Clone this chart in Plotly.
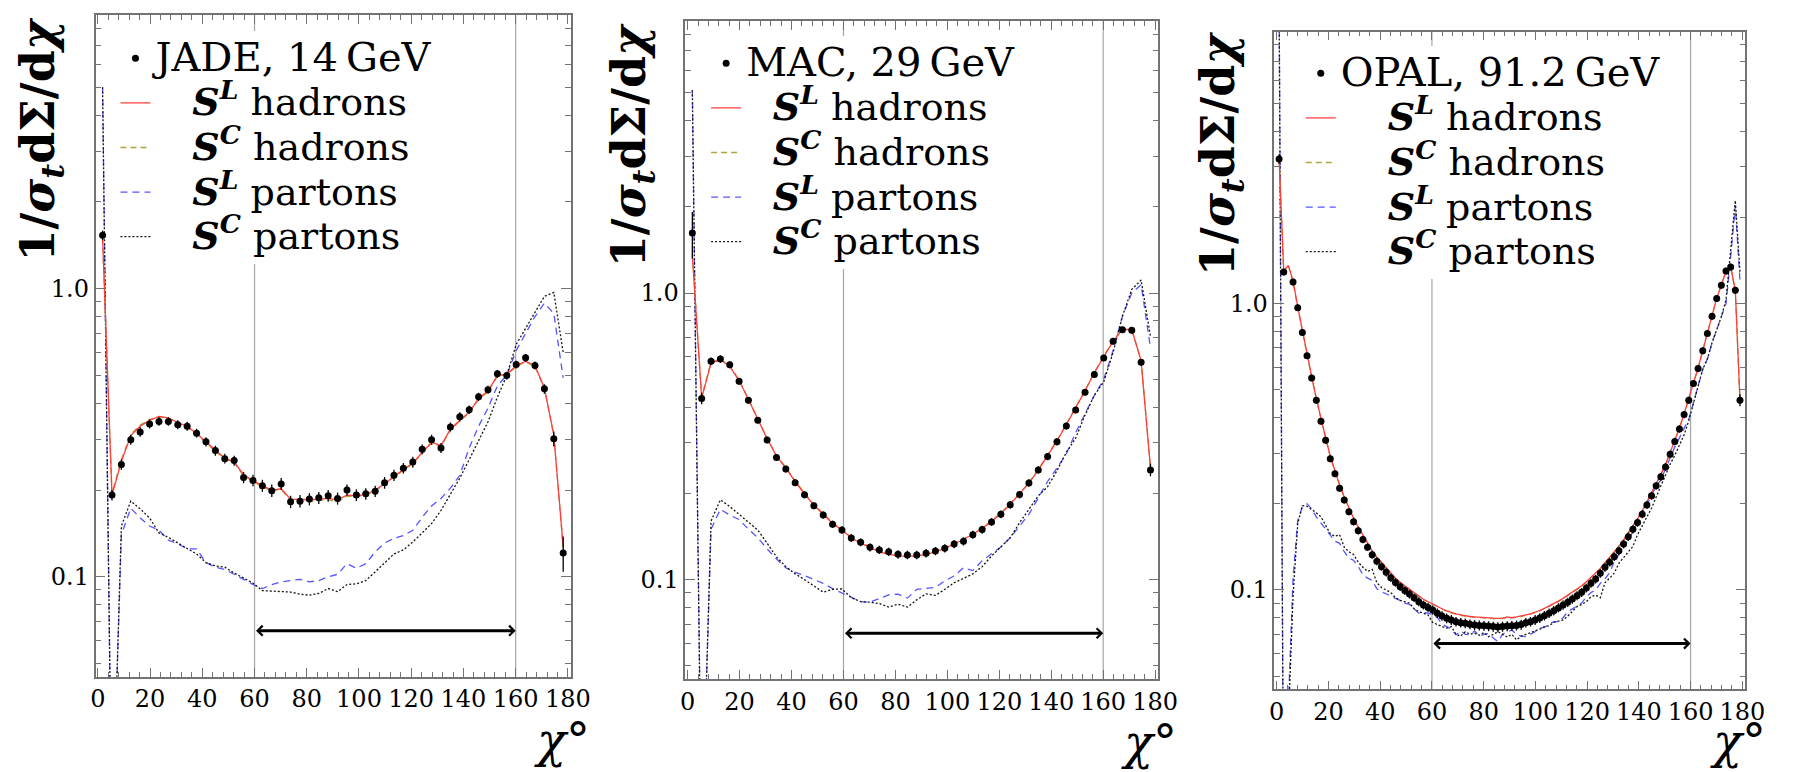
import math
import plotly.graph_objects as go

# ---------------- data ----------------
CHI_36 = [1.8, 5.4, 9.0, 12.6, 16.2, 19.8, 23.4, 27.0, 30.6, 34.2,
          37.8, 41.4, 45.0, 48.6, 52.2, 55.8, 59.4, 63.0, 66.6, 70.2,
          73.8, 77.4, 81.0, 84.6, 88.2, 91.8, 95.4, 99.0, 102.6, 106.2,
          109.8, 113.4, 117.0, 120.6, 124.2, 127.8, 131.4, 135.0, 138.6, 142.2,
          145.8, 149.4, 153.0, 156.6, 160.2, 163.8, 167.4, 171.0, 174.6, 178.2]

CHI_18 = [0.9, 2.7, 4.5, 6.3, 8.1, 9.9, 11.7, 13.5, 15.3, 17.1,
          18.9, 20.7, 22.5, 24.3, 26.1, 27.9, 29.7, 31.5, 33.3, 35.1,
          36.9, 38.7, 40.5, 42.3, 44.1, 45.9, 47.7, 49.5, 51.3, 53.1,
          54.9, 56.7, 58.5, 60.3, 62.1, 63.9, 65.7, 67.5, 69.3, 71.1,
          72.9, 74.7, 76.5, 78.3, 80.1, 81.9, 83.7, 85.5, 87.3, 89.1,
          90.9, 92.7, 94.5, 96.3, 98.1, 99.9, 101.7, 103.5, 105.3, 107.1,
          108.9, 110.7, 112.5, 114.3, 116.1, 117.9, 119.7, 121.5, 123.3, 125.1,
          126.9, 128.7, 130.5, 132.3, 134.1, 135.9, 137.7, 139.5, 141.3, 143.1,
          144.9, 146.7, 148.5, 150.3, 152.1, 153.9, 155.7, 157.5, 159.3, 161.1,
          162.9, 164.7, 166.5, 168.3, 170.1, 171.9, 173.7, 175.5, 177.3, 179.1]

# JADE, 14 GeV
JADE_DATA = [1.53, 0.192, 0.245, 0.299, 0.318, 0.339, 0.346, 0.346, 0.337, 0.333,
             0.315, 0.294, 0.274, 0.257, 0.253, 0.221, 0.216, 0.207, 0.199, 0.210,
             0.182, 0.183, 0.186, 0.188, 0.191, 0.187, 0.200, 0.192, 0.194, 0.198,
             0.212, 0.225, 0.238, 0.250, 0.277, 0.299, 0.280, 0.331, 0.359, 0.380,
             0.421, 0.446, 0.506, 0.499, 0.545, 0.575, 0.541, 0.449, 0.301, 0.121]
JADE_ERR = [0.06, 0.008, 0.010, 0.012, 0.012, 0.012, 0.012, 0.012, 0.012, 0.012,
            0.011, 0.011, 0.011, 0.010, 0.010, 0.010, 0.010, 0.010, 0.010, 0.010,
            0.009, 0.009, 0.009, 0.009, 0.009, 0.009, 0.009, 0.009, 0.009, 0.009,
            0.010, 0.010, 0.010, 0.011, 0.011, 0.012, 0.011, 0.012, 0.013, 0.013,
            0.014, 0.014, 0.016, 0.016, 0.017, 0.018, 0.017, 0.017, 0.018, 0.017]
JADE_SL_HAD = [1.50, 0.192, 0.251, 0.309, 0.333, 0.349, 0.360, 0.356, 0.343, 0.333,
               0.314, 0.294, 0.274, 0.258, 0.250, 0.226, 0.216, 0.207, 0.200, 0.202,
               0.186, 0.185, 0.185, 0.186, 0.187, 0.185, 0.192, 0.191, 0.193, 0.200,
               0.210, 0.223, 0.235, 0.248, 0.270, 0.293, 0.285, 0.325, 0.349, 0.372,
               0.416, 0.441, 0.500, 0.505, 0.540, 0.560, 0.540, 0.452, 0.311, 0.127]
JADE_SC_HAD = [1.50, 0.195, 0.255, 0.312, 0.336, 0.352, 0.358, 0.355, 0.341, 0.331,
               0.312, 0.292, 0.272, 0.257, 0.249, 0.224, 0.214, 0.205, 0.199, 0.201,
               0.184, 0.183, 0.182, 0.184, 0.185, 0.182, 0.190, 0.190, 0.192, 0.199,
               0.209, 0.222, 0.234, 0.247, 0.268, 0.291, 0.283, 0.323, 0.347, 0.370,
               0.413, 0.438, 0.497, 0.502, 0.537, 0.556, 0.536, 0.450, 0.309, 0.126]
JADE_SL_PAR = [5.0, 0.012, 0.140, 0.173, 0.160, 0.150, 0.145, 0.134, 0.130, 0.125,
               0.125, 0.112, 0.108, 0.106, 0.102, 0.098, 0.094, 0.091, 0.094, 0.096,
               0.097, 0.098, 0.096, 0.097, 0.100, 0.102, 0.111, 0.107, 0.111, 0.122,
               0.131, 0.136, 0.139, 0.145, 0.161, 0.176, 0.187, 0.203, 0.225, 0.280,
               0.333, 0.385, 0.460, 0.500, 0.610, 0.700, 0.800, 0.890, 0.820, 0.490]
JADE_SC_PAR = [5.0, 0.012, 0.150, 0.183, 0.172, 0.160, 0.142, 0.137, 0.131, 0.125,
               0.120, 0.112, 0.109, 0.108, 0.103, 0.099, 0.095, 0.0895, 0.0893, 0.0890,
               0.0885, 0.0870, 0.0863, 0.0875, 0.0910, 0.0888, 0.0940, 0.0945, 0.0970, 0.104,
               0.112, 0.120, 0.124, 0.132, 0.142, 0.153, 0.170, 0.193, 0.220, 0.255,
               0.295, 0.345, 0.420, 0.500, 0.640, 0.725, 0.830, 0.940, 0.970, 0.600]

# MAC, 29 GeV
MAC_DATA = [1.62, 0.429, 0.578, 0.589, 0.562, 0.492, 0.423, 0.360, 0.307, 0.267,
            0.243, 0.218, 0.1976, 0.181, 0.168, 0.156, 0.149, 0.1397, 0.135, 0.1296,
            0.127, 0.125, 0.1225, 0.122, 0.122, 0.1237, 0.1258, 0.1286, 0.1332, 0.136,
            0.1435, 0.1495, 0.159, 0.169, 0.1825, 0.198, 0.2175, 0.2415, 0.2687, 0.3025,
            0.3435, 0.391, 0.451, 0.520, 0.594, 0.679, 0.745, 0.742, 0.574, 0.2415]
MAC_ERR = [0.30, 0.020, 0.018, 0.018, 0.016, 0.013, 0.011, 0.009, 0.008, 0.007,
           0.0065, 0.006, 0.0055, 0.005, 0.0048, 0.0045, 0.0044, 0.0043, 0.0042, 0.0042,
           0.0042, 0.0042, 0.0042, 0.0042, 0.0042, 0.0042, 0.0042, 0.0043, 0.0044, 0.0045,
           0.0047, 0.0048, 0.005, 0.0053, 0.0056, 0.006, 0.0065, 0.007, 0.0077, 0.0085,
           0.0095, 0.0105, 0.012, 0.0135, 0.015, 0.017, 0.018, 0.018, 0.015, 0.012]
MAC_SL_HAD = [1.35, 0.430, 0.570, 0.585, 0.555, 0.495, 0.425, 0.362, 0.310, 0.270,
              0.245, 0.220, 0.199, 0.182, 0.169, 0.157, 0.149, 0.140, 0.134, 0.129,
              0.125, 0.1225, 0.1210, 0.1205, 0.1210, 0.1225, 0.1250, 0.1285, 0.1330, 0.1380,
              0.1440, 0.1510, 0.1595, 0.1700, 0.1830, 0.1985, 0.2170, 0.2410, 0.2700, 0.3050,
              0.3470, 0.3960, 0.4560, 0.5270, 0.6000, 0.6800, 0.7450, 0.7450, 0.5800, 0.2450]
MAC_SC_HAD = [1.38, 0.435, 0.575, 0.588, 0.557, 0.497, 0.427, 0.364, 0.311, 0.271,
              0.246, 0.221, 0.200, 0.183, 0.170, 0.158, 0.150, 0.141, 0.135, 0.130,
              0.126, 0.1235, 0.1220, 0.1215, 0.1218, 0.1232, 0.1258, 0.1292, 0.1338, 0.1386,
              0.1448, 0.1518, 0.1605, 0.1710, 0.1840, 0.1995, 0.2180, 0.2425, 0.2715, 0.3065,
              0.3490, 0.3980, 0.4580, 0.5290, 0.6020, 0.6830, 0.7480, 0.7470, 0.5820, 0.2470]
MAC_SL_PAR = [5.1, 0.012, 0.150, 0.176, 0.168, 0.162, 0.150, 0.140, 0.128, 0.118,
              0.110, 0.106, 0.1033, 0.100, 0.097, 0.093, 0.090, 0.087, 0.0838, 0.0834,
              0.0860, 0.0885, 0.0890, 0.0862, 0.0925, 0.0932, 0.0940, 0.0990, 0.1030, 0.1100,
              0.1075, 0.1165, 0.1230, 0.1300, 0.1400, 0.1540, 0.1690, 0.1930, 0.2200, 0.2450,
              0.2750, 0.3260, 0.3800, 0.4400, 0.5000, 0.6300, 0.8300, 1.0000, 1.0700, 0.6440]
MAC_SC_PAR = [5.1, 0.012, 0.160, 0.190, 0.180, 0.169, 0.158, 0.149, 0.134, 0.120,
              0.111, 0.1047, 0.100, 0.095, 0.0904, 0.0925, 0.0928, 0.0865, 0.0838, 0.0834,
              0.0825, 0.0802, 0.0821, 0.0802, 0.0850, 0.0892, 0.0881, 0.0925, 0.0975, 0.101,
              0.1047, 0.111, 0.121, 0.130, 0.140, 0.158, 0.176, 0.196, 0.211, 0.240,
              0.278, 0.312, 0.375, 0.440, 0.490, 0.620, 0.830, 1.030, 1.110, 0.706]

# OPAL, 91.2 GeV
OPAL_DATA = [3.2, 1.289, None, 1.189, 0.968, 0.792, 0.657, 0.550, 0.460, 0.388,
             0.333, 0.287, 0.2545, 0.2264, 0.206, 0.1876, 0.173, 0.161, 0.150, 0.141,
             0.1328, 0.126, 0.1206, 0.1153, 0.1104, 0.1063, 0.1027, 0.0995, 0.0968, 0.094,
             0.091, 0.0886, 0.0868, 0.0851, 0.083, 0.0812, 0.0797, 0.0786, 0.0775, 0.0769,
             0.0765, 0.0759, 0.0755, 0.0752, 0.0750, 0.0748, 0.0745, 0.0742, 0.0745, 0.0748,
             0.0750, 0.0752, 0.0757, 0.0769, 0.0775, 0.0786, 0.0798, 0.0813, 0.083, 0.0847,
             0.0866, 0.0886, 0.0906, 0.0930, 0.0955, 0.0981, 0.1016, 0.1055, 0.1092, 0.1143,
             0.120, 0.125, 0.1307, 0.137, 0.1447, 0.1535, 0.163, 0.172, 0.184, 0.198,
             0.2134, 0.231, 0.2485, 0.269, 0.298, 0.330, 0.365, 0.410, 0.460, 0.526,
             0.593, 0.684, 0.786, 0.903, 1.041, 1.158, 1.299, 1.342, 1.113, 0.460]
OPAL_ERR = [0.12, 0.035, 0.0, 0.032, 0.026, 0.021, 0.017, 0.014, 0.012, 0.010,
            0.0088, 0.0077, 0.0069, 0.0062, 0.0057, 0.0053, 0.0050, 0.0047, 0.0045, 0.0043,
            0.0042, 0.0040, 0.0039, 0.0038, 0.0037, 0.0036, 0.0035, 0.0034, 0.0034, 0.0033,
            0.0033, 0.0032, 0.0032, 0.0032, 0.0031, 0.0031, 0.0031, 0.0031, 0.0030, 0.0030,
            0.0030, 0.0030, 0.0030, 0.0030, 0.0030, 0.0030, 0.0030, 0.0030, 0.0030, 0.0030,
            0.0030, 0.0030, 0.0030, 0.0030, 0.0030, 0.0031, 0.0031, 0.0031, 0.0032, 0.0032,
            0.0032, 0.0033, 0.0033, 0.0034, 0.0034, 0.0035, 0.0036, 0.0037, 0.0038, 0.0039,
            0.0041, 0.0042, 0.0044, 0.0046, 0.0048, 0.0051, 0.0054, 0.0057, 0.0060, 0.0064,
            0.0068, 0.0073, 0.0078, 0.0084, 0.0092, 0.010, 0.011, 0.012, 0.013, 0.015,
            0.017, 0.019, 0.022, 0.025, 0.028, 0.031, 0.035, 0.036, 0.032, 0.022]
OPAL_SL_HAD = [3.2, 1.30, 1.36, 1.20, 0.975, 0.80, 0.665, 0.556, 0.466, 0.395,
               0.340, 0.293, 0.260, 0.232, 0.211, 0.193, 0.178, 0.166, 0.155, 0.146,
               0.137, 0.130, 0.125, 0.1195, 0.1145, 0.110, 0.1065, 0.1035, 0.1005, 0.098,
               0.0952, 0.0928, 0.0910, 0.0895, 0.0877, 0.0860, 0.0845, 0.0834, 0.0825, 0.0818,
               0.0812, 0.0808, 0.0805, 0.0802, 0.0800, 0.0798, 0.0797, 0.0796, 0.0797, 0.0805,
               0.0800, 0.0805, 0.0810, 0.0818, 0.0826, 0.0836, 0.0848, 0.0862, 0.0878, 0.0895,
               0.0914, 0.0935, 0.0958, 0.0982, 0.1008, 0.1035, 0.1068, 0.1105, 0.1145, 0.1190,
               0.1245, 0.1300, 0.1360, 0.1420, 0.1495, 0.1580, 0.1675, 0.1770, 0.1890, 0.2030,
               0.2180, 0.2350, 0.2530, 0.2740, 0.3020, 0.3330, 0.3680, 0.4120, 0.4620, 0.5280,
               0.5950, 0.6870, 0.7900, 0.9060, 1.0450, 1.1600, 1.3000, 1.3450, 1.1100, 0.4600]
OPAL_SC_HAD = [3.2, 1.29, 1.35, 1.19, 0.97, 0.795, 0.662, 0.554, 0.464, 0.394,
               0.339, 0.292, 0.259, 0.232, 0.211, 0.193, 0.178, 0.166, 0.155, 0.1455,
               0.1368, 0.1298, 0.1245, 0.1192, 0.1142, 0.1098, 0.1063, 0.1032, 0.1003, 0.0978,
               0.0950, 0.0926, 0.0908, 0.0892, 0.0874, 0.0858, 0.0843, 0.0831, 0.0822, 0.0815,
               0.0809, 0.0805, 0.0802, 0.0799, 0.0797, 0.0795, 0.0794, 0.0793, 0.0795, 0.0800,
               0.0798, 0.0802, 0.0807, 0.0815, 0.0823, 0.0833, 0.0845, 0.0859, 0.0875, 0.0892,
               0.0911, 0.0932, 0.0955, 0.0979, 0.1005, 0.1032, 0.1065, 0.1102, 0.1142, 0.1187,
               0.1241, 0.1296, 0.1356, 0.1416, 0.1491, 0.1576, 0.1671, 0.1766, 0.1886, 0.2026,
               0.2176, 0.2346, 0.2526, 0.2736, 0.3016, 0.3326, 0.3676, 0.4116, 0.4616, 0.5276,
               0.5946, 0.6866, 0.7896, 0.9056, 1.0440, 1.1590, 1.2990, 1.3440, 1.1090, 0.4580]
OPAL_SL_PAR = [12.0, 0.012, 0.040, 0.110, 0.175, 0.195, 0.200, 0.192, 0.180, 0.171,
               0.163, 0.155, 0.148, 0.1455, 0.136, 0.129, 0.127, 0.121, 0.113, 0.110,
               0.108, 0.101, 0.0986, 0.0970, 0.0950, 0.0935, 0.0920, 0.0900, 0.0890, 0.0860,
               0.0830, 0.0835, 0.0830, 0.0820, 0.0800, 0.0760, 0.0746, 0.0730, 0.0697, 0.0720,
               0.0700, 0.0697, 0.0720, 0.0690, 0.0700, 0.0705, 0.0680, 0.0660, 0.0700, 0.0712,
               0.0725, 0.0700, 0.0690, 0.0687, 0.0700, 0.0715, 0.0736, 0.0740, 0.0760, 0.0775,
               0.0775, 0.0800, 0.0840, 0.0860, 0.0880, 0.0900, 0.0947, 0.0980, 0.1000, 0.1055,
               0.1090, 0.1150, 0.1255, 0.1330, 0.1420, 0.1490, 0.1600, 0.1720, 0.1850, 0.2000,
               0.2150, 0.2300, 0.2420, 0.2650, 0.2900, 0.3160, 0.3400, 0.3650, 0.3950, 0.4500,
               0.5200, 0.5900, 0.6400, 0.7300, 0.8100, 0.9000, 1.0000, 1.4500, 2.2000, 1.2000]
OPAL_SC_PAR = [12.0, 0.012, 0.035, 0.095, 0.170, 0.197, 0.196, 0.191, 0.186, 0.180,
               0.168, 0.157, 0.154, 0.156, 0.141, 0.136, 0.133, 0.125, 0.120, 0.116,
               0.118, 0.106, 0.102, 0.100, 0.098, 0.094, 0.092, 0.091, 0.090, 0.086,
               0.084, 0.083, 0.0818, 0.0770, 0.0755, 0.0745, 0.0736, 0.0745, 0.0700, 0.0690,
               0.0715, 0.0700, 0.0707, 0.0695, 0.0710, 0.0687, 0.0700, 0.0715, 0.0700, 0.0685,
               0.0700, 0.0670, 0.0690, 0.0700, 0.0707, 0.0720, 0.0730, 0.0745, 0.0750, 0.0770,
               0.0780, 0.0786, 0.0810, 0.0840, 0.0875, 0.0890, 0.0910, 0.0947, 0.0960, 0.0940,
               0.1060, 0.1100, 0.1145, 0.1240, 0.1300, 0.1350, 0.1420, 0.1560, 0.1680, 0.1800,
               0.1930, 0.2110, 0.2300, 0.2500, 0.2750, 0.2950, 0.3200, 0.3480, 0.3900, 0.4500,
               0.5200, 0.5900, 0.6400, 0.7300, 0.8100, 0.9000, 1.0300, 1.5000, 2.2900, 1.2900]

EXPERIMENTS = ["JADE, 14\u2009GeV", "MAC, 29\u2009GeV", "OPAL, 91.2\u2009GeV"]
X_TICKS = [0, 20, 40, 60, 80, 100, 120, 140, 160, 180]
Y_TICKS = [0.1, 1.0]
Y_TICKTEXT = ["0.1", "1.0"]
Y_MINOR = [0.05, 0.06, 0.07, 0.08, 0.09, 0.2, 0.3, 0.4, 0.5, 0.6, 0.7, 0.8, 0.9,
           2, 3, 4, 5, 6, 7, 8]
X_RANGE = [-0.9, 181.2]
Y_RANGE = [0.045, 8.9]
FIT_RANGE = [60, 160]
ARROW_Y = 0.065

# ---------------- layout geometry ----------------
W, H = 1801, 772
FONT = "DejaVu Serif"
FRAME = "rgb(115,115,115)"
LEG_FS = 32         # sets the row spacing of the legend
LEG_TEXT_FS = 38    # glyph size of the model entries
LEG_DATA_FS = 40    # glyph size of the experiment entry

panels = [
    dict(name=EXPERIMENTS[0], chi_d=CHI_36, d=JADE_DATA, e=JADE_ERR, chi_m=CHI_36,
         slh=JADE_SL_HAD, sch=JADE_SC_HAD, slp=JADE_SL_PAR, scp=JADE_SC_PAR,
         px=(91.8, 574.0), py=(15.0, 676.7), leg=(112, 31), pad=3,
         yt=(38, 139), xt=(565, 740)),
    dict(name=EXPERIMENTS[1], chi_d=CHI_36, d=MAC_DATA, e=MAC_ERR, chi_m=CHI_36,
         slh=MAC_SL_HAD, sch=MAC_SC_HAD, slp=MAC_SL_PAR, scp=MAC_SC_PAR,
         px=(689.9, 1169.5), py=(21.0, 679.0), leg=(711, 36), pad=2,
         yt=(636, 145), xt=(1160, 742)),
    dict(name=EXPERIMENTS[2], chi_d=CHI_18, d=OPAL_DATA, e=OPAL_ERR, chi_m=CHI_18,
         slh=OPAL_SL_HAD, sch=OPAL_SC_HAD, slp=OPAL_SL_PAR, scp=OPAL_SC_PAR,
         px=(1287.3, 1764.9), py=(31.7, 689.3), leg=(1314, 46), pad=4,
         yt=(1233, 154), xt=(1757, 741)),
]

LABELS = ["<b><i>S</i><sup><i>L</i></sup></b> hadrons",
          "<b><i>S</i><sup><i>C</i></sup></b> hadrons",
          "<b><i>S</i><sup><i>L</i></sup></b> partons",
          "<b><i>S</i><sup><i>C</i></sup></b> partons"]


def big(txt, size):
    return '<span style="font-size:%dpx">%s</span>' % (size, txt)


fig = go.Figure()
annotations = []
layout = dict(width=W, height=H, autosize=False,
              margin=dict(l=0, r=0, t=0, b=0, pad=0),
              paper_bgcolor="white", plot_bgcolor="white",
              hovermode=False, font=dict(family=FONT, color="black"))

for i, p in enumerate(panels):
    s = "" if i == 0 else str(i + 1)
    xa, ya = "x" + s, "y" + s
    lg = "legend" + s
    pad = "\u00a0" * p["pad"] + "\u2009"
    names = [pad + big(t, LEG_TEXT_FS) for t in LABELS]

    # fit-range guide lines
    fig.add_trace(go.Scatter(
        x=[FIT_RANGE[0], FIT_RANGE[0], None, FIT_RANGE[1], FIT_RANGE[1]],
        y=[Y_RANGE[0], Y_RANGE[1], None, Y_RANGE[0], Y_RANGE[1]],
        mode="lines", line=dict(color="rgb(165,165,165)", width=1.2),
        showlegend=False, hoverinfo="skip", xaxis=xa, yaxis=ya))

    # S^L partons (blue dashed)
    fig.add_trace(go.Scatter(x=p["chi_m"], y=p["slp"], mode="lines", name=names[2],
                             line=dict(color="rgb(85,85,255)", width=1.3, dash="7px,5px"),
                             legend=lg, legendrank=4, xaxis=xa, yaxis=ya))
    # S^C partons (black dotted)
    fig.add_trace(go.Scatter(x=p["chi_m"], y=p["scp"], mode="lines", name=names[3],
                             line=dict(color="rgb(20,20,20)", width=1.3, dash="2px,2px"),
                             legend=lg, legendrank=5, xaxis=xa, yaxis=ya))
    # S^C hadrons (olive dashed)
    fig.add_trace(go.Scatter(x=p["chi_m"], y=p["sch"], mode="lines", name=names[1],
                             line=dict(color="rgb(175,165,60)", width=1.3, dash="6px,4px"),
                             legend=lg, legendrank=3, xaxis=xa, yaxis=ya))
    # S^L hadrons (red solid)
    fig.add_trace(go.Scatter(x=p["chi_m"], y=p["slh"], mode="lines", name=names[0],
                             line=dict(color="rgb(255,60,60)", width=1.3),
                             legend=lg, legendrank=2, xaxis=xa, yaxis=ya))
    # data
    fig.add_trace(go.Scatter(x=p["chi_d"], y=p["d"], mode="markers",
                             name=big(p["name"], LEG_DATA_FS),
                             marker=dict(color="black", size=7),
                             error_y=dict(type="data", array=p["e"], visible=True,
                                          color="black", thickness=1.3, width=0),
                             legend=lg, legendrank=1, xaxis=xa, yaxis=ya))

    x0, x1 = p["px"]
    y0, y1 = p["py"]
    layout["xaxis" + s] = dict(
        domain=[x0 / W, x1 / W], range=X_RANGE, anchor=ya,
        tickmode="array", tickvals=X_TICKS, ticks="inside", ticklen=9,
        tickwidth=1, tickcolor=FRAME,
        minor=dict(ticks="inside", ticklen=5, tickcolor=FRAME, tick0=0, dtick=4),
        showline=True, linecolor=FRAME, linewidth=1.5, mirror="allticks",
        showgrid=False, zeroline=False,
        tickfont=dict(family=FONT, size=24, color="black"))
    layout["yaxis" + s] = dict(
        domain=[1 - y1 / H, 1 - y0 / H], type="log",
        range=[math.log10(Y_RANGE[0]), math.log10(Y_RANGE[1])], anchor=xa,
        tickmode="array", tickvals=Y_TICKS, ticktext=Y_TICKTEXT,
        ticks="inside", ticklen=10, tickwidth=1, tickcolor=FRAME,
        minor=dict(ticks="inside", ticklen=6, tickcolor=FRAME, tickvals=Y_MINOR),
        showline=True, linecolor=FRAME, linewidth=1.5, mirror="allticks",
        showgrid=False, zeroline=False,
        tickfont=dict(family=FONT, size=24, color="black"))
    layout[lg] = dict(
        x=p["leg"][0] / W, y=1 - p["leg"][1] / H, xanchor="left", yanchor="top",
        xref="paper", yref="paper", bgcolor="white", borderwidth=0,
        font=dict(family=FONT, size=LEG_FS, color="black"),
        itemwidth=30, tracegroupgap=0, traceorder="normal")

    # double arrow marking the fit range
    annotations.append(dict(
        x=FIT_RANGE[1], y=math.log10(ARROW_Y), ax=FIT_RANGE[0], ay=math.log10(ARROW_Y),
        xref=xa, yref=ya, axref=xa, ayref=ya, text="", showarrow=True,
        arrowside="end+start", arrowhead=4, startarrowhead=4,
        arrowsize=0.65, startarrowsize=0.65, arrowwidth=3, arrowcolor="black"))
    # y title
    annotations.append(dict(
        x=p["yt"][0] / W, y=1 - p["yt"][1] / H, xref="paper", yref="paper",
        text="<b>1/<i>σ</i><sub><i>t</i></sub>dΣ/d<i>χ</i></b>", textangle=-90,
        showarrow=False, xanchor="center", yanchor="middle",
        font=dict(family=FONT, size=46, color="black")))
    # x title
    annotations.append(dict(
        x=p["xt"][0] / W, y=1 - p["xt"][1] / H, xref="paper", yref="paper",
        text="<i>χ</i>°", showarrow=False, xanchor="center", yanchor="middle",
        font=dict(family=FONT, size=48, color="black")))

layout["annotations"] = annotations
fig.update_layout(**layout)
fig.write_html("out.html")
